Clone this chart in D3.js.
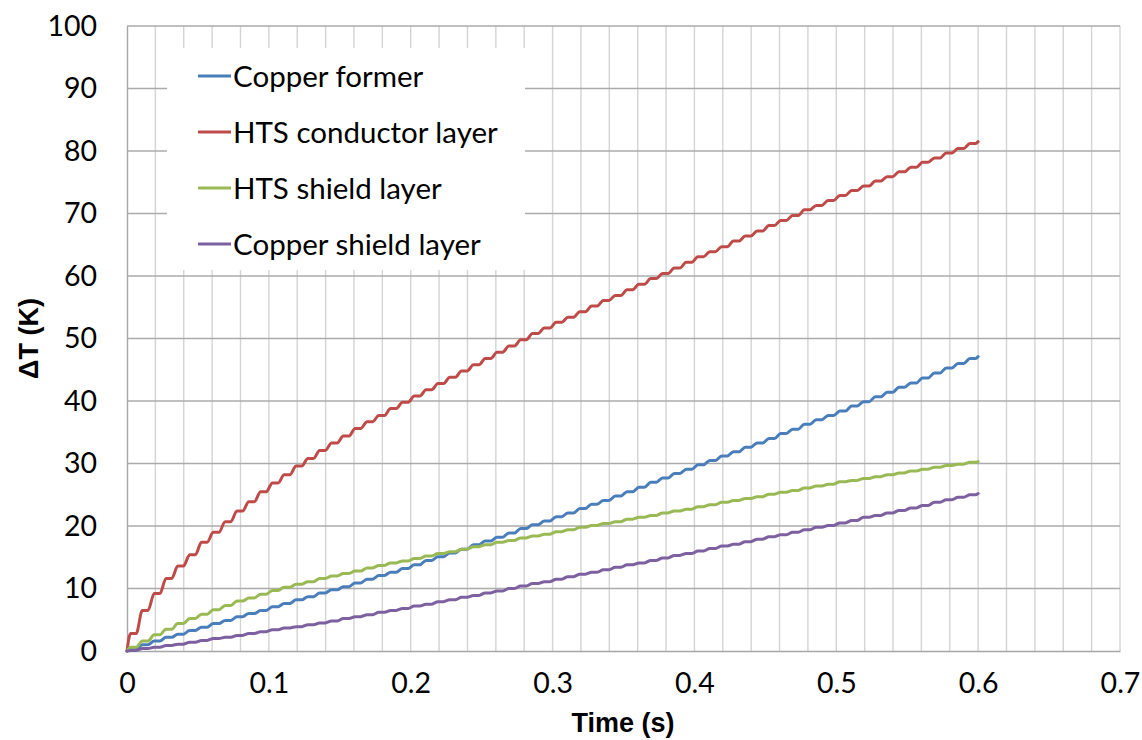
<!DOCTYPE html>
<html>
<head>
<meta charset="utf-8">
<script src="https://cdn.jsdelivr.net/npm/d3@7"></script>
<style>
  html, body { margin: 0; padding: 0; background: #fff; }
  svg { display: block; font-family: Lato, "Liberation Sans", sans-serif; }
</style>
</head>
<body>
<svg id="chart" width="1142" height="740"></svg>
<script>
// Sample instants (s): start, one sample per half-cycle plateau, end
const time = [0,
  0.0045, 0.0128, 0.0212, 0.0295, 0.0378, 0.0462, 0.0545, 0.0628, 0.0712, 0.0795, 0.0878, 0.0962,
  0.1045, 0.1128, 0.1212, 0.1295, 0.1378, 0.1462, 0.1545, 0.1628, 0.1712, 0.1795, 0.1878, 0.1962,
  0.2045, 0.2128, 0.2212, 0.2295, 0.2378, 0.2462, 0.2545, 0.2628, 0.2712, 0.2795, 0.2878, 0.2962,
  0.3045, 0.3128, 0.3212, 0.3295, 0.3378, 0.3462, 0.3545, 0.3628, 0.3712, 0.3795, 0.3878, 0.3962,
  0.4045, 0.4128, 0.4212, 0.4295, 0.4378, 0.4462, 0.4545, 0.4628, 0.4712, 0.4795, 0.4878, 0.4962,
  0.5045, 0.5128, 0.5212, 0.5295, 0.5378, 0.5462, 0.5545, 0.5628, 0.5712, 0.5795, 0.5878, 0.5962,
  0.6];

// Temperature rise (K) of each layer at those instants
const copperFormer = [0,
  0.3, 1.0, 1.6, 2.2, 2.7, 3.3, 3.8, 4.4, 4.9, 5.5, 6.0, 6.5,
  7.1, 7.6, 8.2, 8.7, 9.3, 9.8, 10.3, 10.9, 11.5, 12.1, 12.6, 13.2,
  13.8, 14.5, 15.1, 15.7, 16.3, 17.0, 17.6, 18.2, 18.9, 19.6, 20.2, 20.8,
  21.5, 22.1, 22.8, 23.5, 24.1, 24.8, 25.5, 26.2, 27.0, 27.7, 28.4, 29.1,
  29.8, 30.5, 31.2, 31.9, 32.6, 33.3, 34.0, 34.8, 35.5, 36.3, 37.0, 37.7,
  38.4, 39.2, 39.9, 40.7, 41.4, 42.2, 42.9, 43.7, 44.5, 45.3, 46.0, 46.8,
  47.1];

const htsConductor = [0,
  2.8, 6.5, 9.2, 11.6, 13.6, 15.4, 17.4, 19.0, 20.7, 22.4, 23.9, 25.5,
  26.9, 28.2, 29.6, 30.8, 32.1, 33.3, 34.4, 35.6, 36.7, 37.7, 38.8, 39.8,
  40.8, 41.8, 42.8, 43.8, 44.8, 45.8, 46.8, 47.8, 48.8, 49.8, 50.8, 51.7,
  52.6, 53.4, 54.3, 55.2, 56.1, 56.9, 57.8, 58.7, 59.6, 60.4, 61.3, 62.2,
  63.1, 63.9, 64.7, 65.6, 66.4, 67.2, 68.1, 68.9, 69.7, 70.6, 71.3, 72.1,
  72.9, 73.7, 74.4, 75.2, 75.9, 76.7, 77.4, 78.2, 78.9, 79.7, 80.4, 81.2,
  81.5];

const htsShield = [0,
  0.6, 1.6, 2.6, 3.5, 4.4, 5.2, 5.9, 6.6, 7.3, 8.0, 8.5, 9.1,
  9.7, 10.2, 10.7, 11.1, 11.6, 12.0, 12.4, 12.8, 13.3, 13.7, 14.1, 14.4,
  14.8, 15.2, 15.6, 15.9, 16.3, 16.7, 17.0, 17.4, 17.7, 18.1, 18.4, 18.7,
  19.1, 19.4, 19.8, 20.1, 20.4, 20.7, 21.1, 21.4, 21.7, 22.1, 22.4, 22.7,
  23.1, 23.4, 23.8, 24.1, 24.4, 24.7, 25.1, 25.4, 25.7, 26.1, 26.4, 26.7,
  27.1, 27.3, 27.6, 27.9, 28.2, 28.5, 28.8, 29.1, 29.4, 29.7, 29.9, 30.2,
  30.3];

const copperShield = [0,
  0.1, 0.4, 0.6, 0.9, 1.1, 1.4, 1.7, 2.0, 2.2, 2.5, 2.8, 3.1,
  3.4, 3.7, 3.9, 4.2, 4.5, 4.8, 5.2, 5.5, 5.8, 6.2, 6.5, 6.8,
  7.2, 7.5, 7.9, 8.2, 8.6, 8.9, 9.3, 9.6, 10.0, 10.4, 10.8, 11.1,
  11.5, 11.9, 12.3, 12.6, 13.0, 13.4, 13.8, 14.1, 14.5, 14.9, 15.3, 15.6,
  16.0, 16.4, 16.8, 17.1, 17.5, 17.9, 18.3, 18.6, 19.0, 19.4, 19.8, 20.1,
  20.5, 20.9, 21.4, 21.7, 22.1, 22.5, 22.9, 23.3, 23.8, 24.2, 24.6, 25.0,
  25.2];

const seriesNames = ["Copper former", "HTS conductor layer", "HTS shield layer", "Copper shield layer"];
const seriesValues = [copperFormer, htsConductor, htsShield, copperShield];
const seriesColors = ["#4a7ebb", "#be4b48", "#98b954", "#7d60a0"];

const xTicks = [0, 0.1, 0.2, 0.3, 0.4, 0.5, 0.6, 0.7];
const yTicks = [0, 10, 20, 30, 40, 50, 60, 70, 80, 90, 100];

const svg = d3.select("#chart");
const x = d3.scaleLinear().domain([0, 0.7]).range([127, 1120]);
const y = d3.scaleLinear().domain([0, 100]).range([651, 26]);

// Gridlines: light verticals every 0.02 s, darker horizontals every 10 K
svg.append("g").selectAll("line")
  .data(x.ticks(35).filter(d => d > 0))
  .join("line")
  .attr("x1", d => x(d)).attr("x2", d => x(d))
  .attr("y1", y(0)).attr("y2", y(100))
  .attr("stroke", "#d4d4d4").attr("stroke-width", 1.4);

svg.append("g").selectAll("line")
  .data(yTicks.filter(d => d > 0))
  .join("line")
  .attr("x1", x(0)).attr("x2", x(0.7))
  .attr("y1", d => y(d)).attr("y2", d => y(d))
  .attr("stroke", "#ababab").attr("stroke-width", 1.4);

// Axes
const xAxis = svg.append("g").attr("transform", `translate(0,${y(0)})`)
  .call(d3.axisBottom(x).tickValues(xTicks).tickFormat(d3.format("")).tickSize(0).tickPadding(22));
const yAxis = svg.append("g").attr("transform", `translate(${x(0)},0)`)
  .call(d3.axisLeft(y).tickValues(yTicks).tickSize(0).tickPadding(30));
[xAxis, yAxis].forEach(g => {
  g.select(".domain").attr("stroke", "#a6a6a6").attr("stroke-width", 1.4);
  g.selectAll("text").attr("font-size", 28.5).attr("fill", "#000")
    .attr("font-family", "Lato, 'Liberation Sans', sans-serif");
});

// Series lines: each sample is held briefly, giving the stepped ripple
const hold = 0.002;
const line = d3.line().x(d => x(d[0])).y(d => y(d[1])).curve(d3.curveMonotoneX);
function seriesPoints(values) {
  const pts = [];
  values.forEach((v, i) => {
    const t = time[i];
    if (i === 0 || i === values.length - 1) pts.push([t, v]);
    else { pts.push([t - hold, v]); pts.push([t + hold, v]); }
  });
  return pts;
}
svg.append("g").selectAll("path")
  .data(seriesValues)
  .join("path")
  .attr("d", d => line(seriesPoints(d)))
  .attr("fill", "none")
  .attr("stroke", (d, i) => seriesColors[i])
  .attr("stroke-width", 3)
  .attr("stroke-linejoin", "round")
  .attr("stroke-linecap", "round");

// Legend
const legend = svg.append("g");
legend.append("rect").attr("x", 167).attr("y", 48).attr("width", 358).attr("height", 222).attr("fill", "#fff");
const items = legend.selectAll("g.item").data(seriesNames).join("g")
  .attr("transform", (d, i) => `translate(0,${76 + i * 56})`);
items.append("line").attr("x1", 198).attr("x2", 231).attr("y1", 0).attr("y2", 0)
  .attr("stroke", (d, i) => seriesColors[i]).attr("stroke-width", 3);
items.append("text").attr("x", 233).attr("y", 0).attr("dy", "0.36em")
  .attr("font-size", 29.5).attr("fill", "#000").text(d => d);

// Axis titles
svg.append("text").attr("x", 623).attr("y", 732).attr("text-anchor", "middle")
  .attr("font-family", "'Liberation Sans', Arial, sans-serif")
  .attr("font-size", 27).attr("font-weight", "bold").text("Time (s)");
svg.append("text").attr("transform", `translate(38,${(y(0) + y(100)) / 2}) rotate(-90)`)
  .attr("font-family", "'Liberation Sans', Arial, sans-serif")
  .attr("text-anchor", "middle").attr("font-size", 27).attr("font-weight", "bold").text("ΔT (K)");
</script>
</body>
</html>
